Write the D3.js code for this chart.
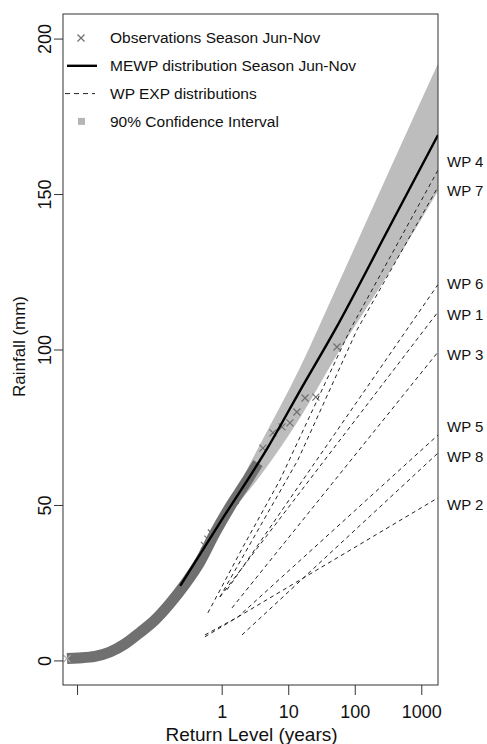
<!DOCTYPE html>
<html>
<head>
<meta charset="utf-8">
<script src="https://cdn.jsdelivr.net/npm/d3@7"></script>
<style>
  body { margin: 0; background: #fff; }
  svg { display: block; }
  text { font-family: "Liberation Sans", Arial, sans-serif; fill: #111; }
</style>
</head>
<body>
<div id="chart"></div>
<script>
// ---- data ----
// observations: dense part of the empirical curve (return level in years, rainfall mm)
const obsDenseT = [0.00473, 0.00687, 0.01247, 0.02095, 0.0352, 0.0592, 0.0993, 0.167, 0.2807, 0.472, 0.793, 1.333, 2.24, 3.51];
const obsDenseR = [0.6, 0.8, 1.3, 2.7, 5.3, 9.0, 13.0, 18.3, 24.5, 31.7, 41.0, 49.4, 56.8, 63.5];
// observations: crosses standing out of the band and the upper tail
const obsTailT = [0.00473, 0.55, 0.62, 0.7, 1.6, 1.9, 2.1, 2.6, 3.0, 4.17, 5.9, 8.06, 10.6, 13.5, 17.9, 26, 54];
const obsTailR = [0.6, 37.0, 39.0, 41.0, 51.5, 54.5, 55.5, 59.0, 61.5, 68.3, 73.2, 75.1, 76.4, 79.9, 84.4, 84.7, 100.8];

// MEWP distribution
const mewpT = [0.238, 1.08, 4.97, 15, 50.5, 338, 1783];
const mewpR = [24.0, 46.3, 68.6, 86.7, 106.3, 139.7, 169.0];

// 90% confidence interval
const ciT = [0.238, 1.08, 4.0, 15, 50.5, 338, 1783];
const ciLower = [23.0, 44.5, 60.0, 78.0, 97.3, 125.2, 151.0];
const ciUpper = [25.0, 47.8, 70.5, 94.1, 118.8, 158.0, 192.0];

// WP EXP distributions
const wpNames = ["WP 1", "WP 2", "WP 3", "WP 4", "WP 5", "WP 6", "WP 7", "WP 8"];
const wpT = [
  [0.94, 1783],
  [0.56, 1.76, 1783],
  [1.43, 1783],
  [0.62, 2.09, 7.5, 84.8, 1783],
  [0.56, 1.76, 1783],
  [1.2, 1783],
  [0.94, 14, 108, 1783],
  [2.02, 1783]
];
const wpR = [
  [20.4, 112.1],
  [8.2, 14.0, 52.3],
  [16.9, 99.2],
  [15.3, 36.5, 58.0, 106.3, 157.7],
  [7.6, 14.0, 72.5],
  [22.7, 120.9],
  [20.4, 64.5, 106.3, 152.3],
  [8.2, 66.7]
];
const wpLabelMm = [111.1, 50.0, 98.2, 160.3, 75.1, 121.1, 151.0, 65.4];

const xTickValues = [0.0067, 1, 10, 100, 1000];
const xTickLabels = ["", "1", "10", "100", "1000"];
const yTickValues = [0, 50, 100, 150, 200];

const legendLabels = [
  "Observations Season Jun-Nov",
  "MEWP distribution Season Jun-Nov",
  "WP EXP distributions",
  "90% Confidence Interval"
];

// ---- layout ----
const W = 487, H = 744;
const plot = { left: 63, right: 438, top: 14, bottom: 685 };

const svg = d3.select("#chart").append("svg")
  .attr("width", W).attr("height", H)
  .attr("viewBox", `0 0 ${W} ${H}`);

const x = d3.scaleLog().domain([0.00412, 1783]).range([plot.left, plot.right]);
const y = d3.scaleLinear().domain([-7.9, 207.9]).range([plot.bottom, plot.top]);

svg.append("defs").append("clipPath").attr("id", "plotClip")
  .append("rect")
  .attr("x", plot.left).attr("y", plot.top)
  .attr("width", plot.right - plot.left).attr("height", plot.bottom - plot.top);

const body = svg.append("g").attr("clip-path", "url(#plotClip)");

// confidence band
const ciData = ciT.map((t, i) => ({ t, lo: ciLower[i], hi: ciUpper[i] }));
body.append("path")
  .attr("class", "ci")
  .datum(ciData)
  .attr("fill", "#bdbdbd")
  .attr("d", d3.area()
    .x(d => x(d.t))
    .y0(d => y(d.lo))
    .y1(d => y(d.hi))
    .curve(d3.curveMonotoneX));

// dense observations drawn as a thick band
const dense = obsDenseT.map((t, i) => [t, obsDenseR[i]]);
body.append("path")
  .attr("class", "obs-band")
  .datum(dense)
  .attr("fill", "none")
  .attr("stroke", "#707070")
  .attr("stroke-width", 11)
  .attr("stroke-linejoin", "round")
  .attr("d", d3.line().x(d => x(d[0])).y(d => y(d[1])).curve(d3.curveMonotoneX));

// observation crosses
const cross = "M-3.5,-3.5L3.5,3.5M-3.5,3.5L3.5,-3.5";
body.selectAll(".obs")
  .data(obsTailT.map((t, i) => [t, obsTailR[i]]))
  .join("path")
  .attr("class", "obs")
  .attr("transform", d => `translate(${x(d[0])},${y(d[1])})`)
  .attr("d", cross)
  .attr("fill", "none")
  .attr("stroke", (d, i) => i === 0 ? "#aaa" : "#707070")
  .attr("stroke-width", 1.2);

// WP dashed lines
const wpLine = d3.line().x(d => x(d[0])).y(d => y(d[1]));
body.selectAll(".wp")
  .data(wpNames.map((n, i) => wpT[i].map((t, j) => [t, wpR[i][j]])))
  .join("path")
  .attr("class", "wp")
  .attr("fill", "none")
  .attr("stroke", "#222")
  .attr("stroke-width", 1)
  .attr("stroke-dasharray", "4,3.5")
  .attr("d", wpLine);

// MEWP line
body.append("path")
  .attr("class", "mewp")
  .datum(mewpT.map((t, i) => [t, mewpR[i]]))
  .attr("fill", "none")
  .attr("stroke", "#000")
  .attr("stroke-width", 2.4)
  .attr("d", d3.line().x(d => x(d[0])).y(d => y(d[1])).curve(d3.curveMonotoneX));

// box
svg.append("rect")
  .attr("x", plot.left).attr("y", plot.top)
  .attr("width", plot.right - plot.left).attr("height", plot.bottom - plot.top)
  .attr("fill", "none").attr("stroke", "#333").attr("stroke-width", 1);

// x axis
const xAxis = svg.append("g")
  .attr("transform", `translate(0,${plot.bottom})`)
  .call(d3.axisBottom(x).tickValues(xTickValues)
    .tickFormat((d, i) => xTickLabels[i]).tickSize(10).tickPadding(10));
xAxis.select(".domain").remove();
xAxis.selectAll("line").attr("stroke", "#333");
xAxis.selectAll("text").style("font-size", "18px").attr("fill", "#111");

// y axis
const yAxis = svg.append("g")
  .attr("transform", `translate(${plot.left},0)`)
  .call(d3.axisLeft(y).tickValues(yTickValues).tickSize(9));
yAxis.select(".domain").remove();
yAxis.selectAll("line").attr("stroke", "#333");
yAxis.selectAll("text")
  .attr("transform", "rotate(-90)")
  .attr("x", 0).attr("y", -12).attr("dy", 0)
  .style("text-anchor", "middle")
  .style("font-size", "18px")
  .attr("fill", "#111");

// axis titles
svg.append("text")
  .attr("x", (plot.left + plot.right) / 2 + 1).attr("y", 741)
  .attr("text-anchor", "middle")
  .style("font-size", "19px")
  .text("Return Level (years)");

svg.append("text")
  .attr("transform", `translate(25,${(plot.top + plot.bottom) / 2 - 3}) rotate(-90)`)
  .attr("text-anchor", "middle")
  .style("font-size", "17px")
  .text("Rainfall (mm)");

// WP labels in the right margin
svg.selectAll(".wplab")
  .data(wpNames)
  .join("text")
  .attr("class", "wplab")
  .attr("x", 447)
  .attr("y", (d, i) => y(wpLabelMm[i]))
  .attr("dy", "0.35em")
  .style("font-size", "15px")
  .text(d => d);

// legend
const lg = svg.append("g");
const rowY = i => 38 + i * 27.8;
lg.selectAll("text")
  .data(legendLabels)
  .join("text")
  .attr("x", 110)
  .attr("y", (d, i) => rowY(i))
  .attr("dy", "0.35em")
  .style("font-size", "15.5px")
  .text(d => d);
lg.append("path")
  .attr("transform", `translate(81,${rowY(0)})`)
  .attr("d", cross).attr("fill", "none")
  .attr("stroke", "#6e6e6e").attr("stroke-width", 1.2);
lg.append("line")
  .attr("x1", 67).attr("x2", 97).attr("y1", rowY(1)).attr("y2", rowY(1))
  .attr("stroke", "#000").attr("stroke-width", 2.4);
lg.append("line")
  .attr("x1", 65).attr("x2", 95).attr("y1", rowY(2)).attr("y2", rowY(2))
  .attr("stroke", "#222").attr("stroke-width", 1).attr("stroke-dasharray", "5,4");
lg.append("rect")
  .attr("x", 78).attr("y", rowY(3) - 3.5).attr("width", 7).attr("height", 7)
  .attr("fill", "#b5b5b5");
</script>
</body>
</html>
